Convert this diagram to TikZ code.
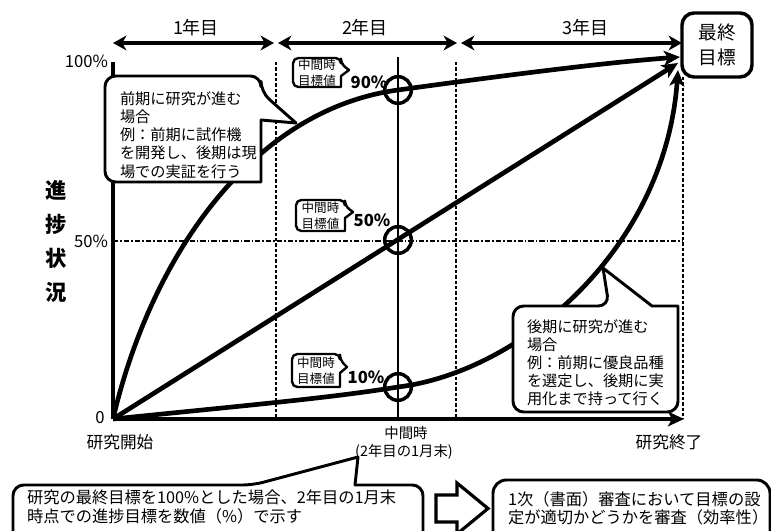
\documentclass[tikz,border=0pt]{standalone}
\usepackage{fontspec}
\setmainfont{Noto Sans CJK JP}
\usetikzlibrary{arrows.meta}
\begin{document}
\begin{tikzpicture}[x=0.75pt,y=-0.75pt,
  every node/.style={inner sep=0pt, outer sep=0pt},
  bigtip/.style={-{Stealth[length=12pt,width=11pt,inset=3pt]}},
  curveline/.style={line width=3.5pt, bigtip},
  axisline/.style={line width=3pt},
  midline/.style={line width=2.2pt},
  yearspan/.style={line width=2.6pt, {Stealth[length=10pt,width=11pt,inset=3pt]}-{Stealth[length=10pt,width=11pt,inset=3pt]}},
  dotline/.style={line width=1.2pt, dash pattern=on 2.5pt off 1.5pt},
  dashdot/.style={line width=1.2pt, dash pattern=on 4pt off 1.5pt on 1.2pt off 1.5pt},
  ring/.style={circle, draw, line width=2.6pt, minimum size=20pt},
  callout/.style={line width=2.2pt, fill=white, line join=round},
  tagline/.style={line width=1.8pt, fill=white, line join=round},
  bodytext/.style={font=\fontsize{11.4pt}{13.6pt}\selectfont, align=left, anchor=west},
  boxtext/.style={font=\fontsize{12.2pt}{13.8pt}\selectfont, align=left, anchor=west},
  tagtext/.style={font=\fontsize{9.4pt}{12pt}\selectfont, align=center},
  pcttext/.style={font=\bfseries\fontsize{12.5pt}{14pt}\selectfont},
  labtext/.style={font=\fontsize{12.5pt}{14pt}\selectfont},
  yeartext/.style={font=\fontsize{13.5pt}{15pt}\selectfont},
  smalltext/.style={font=\fontsize{10.8pt}{12pt}\selectfont},
  goalbox/.style={draw, line width=2.6pt, rounded corners=9pt, fill=white,
    minimum width=52.5pt, minimum height=48pt, align=center,
    font=\fontsize{14pt}{18.5pt}\selectfont},
]
\useasboundingbox (0,0) rectangle (771,531);
\clip (0,0) rectangle (771,531);

% ---- key points
\coordinate (O) at (113,419);
\coordinate (ytop) at (113,62);
\coordinate (xend) at (684,419);
\coordinate (c90) at (398,90);
\coordinate (c50) at (398,240);
\coordinate (c10) at (398,387);
\coordinate (gU) at (680,57);
\coordinate (gM) at (678,63);
\coordinate (gL) at (678,70);

% ---- guide lines
\draw[dotline] (276,62) -- (276,419);
\draw[dotline] (456,62) -- (456,419);
\draw[dotline] (683,77) -- (683,419);
\draw[dashdot] (113,241) -- (683,241);
\draw[midline] (398,57) -- (398,419);

% ---- axes
\draw[axisline] (ytop) -- (O);
\draw[axisline, bigtip] (O) -- (xend);

% ---- year spans
\coordinate (y0) at (113,43);
\coordinate (y1a) at (274,43);
\coordinate (y1b) at (278,43);
\coordinate (y2a) at (457,43);
\coordinate (y2b) at (461,43);
\coordinate (y3) at (682,43);
\draw[yearspan] (y0) -- (y1a);
\draw[yearspan] (y1b) -- (y2a);
\draw[yearspan] (y2b) -- (y3);
\node[yeartext] (yr1) at (196,28) {1年目};
\node[yeartext] (yr2) at (365,28) {2年目};
\node[yeartext] (yr3) at (585,28) {3年目};

% ---- curves
\draw[curveline] (O) .. controls (150,260) and (250,110) .. (c90)
   .. controls (500,76) and (600,63) .. (gU);
\draw[curveline] (O) -- (gM);
\draw[curveline] (O) .. controls (250,405) and (330,398) .. (c10)
   .. controls (520,372) and (665,250) .. (gL);

% ---- rings
\node[ring] (r90) at (c90) {};
\node[ring] (r50) at (c50) {};
\node[ring] (r10) at (c10) {};

% ---- goal
\node[goalbox] (goal) at (717,45) {最終\\目標};

% ---- axis labels
\node[labtext, anchor=east] (p100) at (108,61) {100\%};
\node[labtext, anchor=east] (p50) at (108,241) {50\%};
\node[labtext] (p0) at (100,418) {0};
\node[font=\bfseries\fontsize{16pt}{25.5pt}\selectfont, align=center] (ylab) at (56,241) {進\\捗\\状\\況};
\node[labtext] (start) at (120,442) {研究開始};
\node[smalltext] (mid) at (406,433) {中間時};
\node[smalltext] (midsub) at (404,452) {(2年目の1月末)};
\node[labtext] (finish) at (669,442) {研究終了};

% ---- upper-left callout
\draw[callout] (105,130) [rounded corners=8pt] -- (105,76) -- (261,76) -- (261,92)
   [sharp corners] -- (296,123) -- (261,120) -- (261,182)
   [rounded corners=8pt] -- (105,182) -- cycle;
\node[bodytext] (early) at (120,135) {前期に研究が進む\\場合\\例：前期に試作機\\を開発し、後期は現\\場での実証を行う};

% ---- lower-right callout
\draw[callout] (513,360) [rounded corners=8pt] -- (513,306) -- (609,306)
   [sharp corners] -- (603,268) -- (652,306) -- (678,306)
   [rounded corners=8pt] -- (678,412) -- (513,412) -- cycle;
\node[bodytext] (late) at (527,362.5) {後期に研究が進む\\場合\\例：前期に優良品種\\を選定し、後期に実\\用化まで持って行く};

% ---- mid tags
\draw[tagline] (293,72) [rounded corners=4pt] -- (293,58) -- (341,58) -- (341,64)
   [sharp corners] -- (349,70) -- (341,76) -- (341,87)
   [rounded corners=4pt] -- (293,87) -- cycle;
\node[tagtext] (t90) at (317,72.5) {中間時\\目標値};
\node[pcttext] (v90) at (369,82) {90\%};

\draw[tagline] (296,215) [rounded corners=4pt] -- (296,200) -- (345,200) -- (345,206)
   [sharp corners] -- (353,212) -- (345,218) -- (345,231)
   [rounded corners=4pt] -- (296,231) -- cycle;
\node[tagtext] (t50) at (320.5,215.5) {中間時\\目標値};
\node[pcttext] (v50) at (372,220) {50\%};

\draw[tagline] (292,370) [rounded corners=4pt] -- (292,354) -- (340,354) -- (340,360)
   [sharp corners] -- (347,367) -- (340,373) -- (340,387)
   [rounded corners=4pt] -- (292,387) -- cycle;
\node[tagtext] (t10) at (316,370.5) {中間時\\目標値};
\node[pcttext] (v10) at (366,377) {10\%};

% ---- bottom callout
\draw[callout] (13,520) [rounded corners=8pt] -- (13,485) -- (253,485)
   [sharp corners] -- (358,457) -- (355,485)
   [rounded corners=8pt] -- (423,485) -- (423,560) -- (13,560) -- cycle;
\node[boxtext] (note) at (27,507) {研究の最終目標を100\%とした場合、2年目の1月末\\時点での進捗目標を数値（\%）で示す};

% ---- block arrow
\draw[line width=2.4pt, fill=white, line join=miter] (436,495) -- (457,495) -- (457,483)
   -- (488,508.5) -- (457,534) -- (457,522) -- (436,522) -- cycle;

% ---- right box
\draw[callout, rounded corners=10pt] (493,480) rectangle (770,560);
\node[boxtext] (review) at (508,508.5) {1次（書面）審査において目標の設\\定が適切かどうかを審査（効率性）};
\end{tikzpicture}
\end{document}
